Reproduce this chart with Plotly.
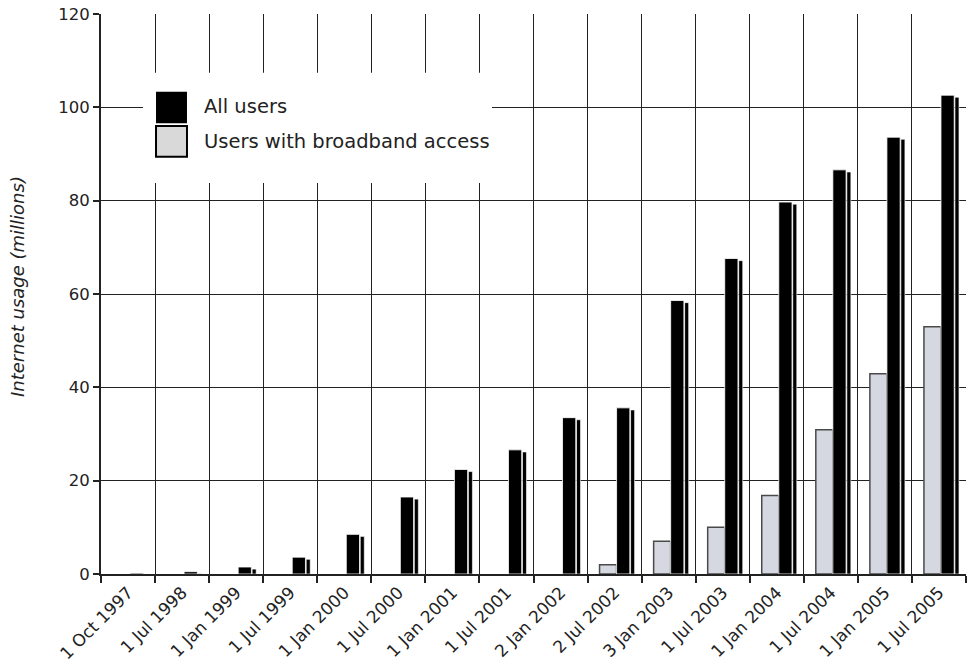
import plotly.graph_objects as go

categories = ["1 Oct 1997", "1 Jul 1998", "1 Jan 1999", "1 Jul 1999", "1 Jan 2000",
              "1 Jul 2000", "1 Jan 2001", "1 Jul 2001", "2 Jan 2002", "2 Jul 2002",
              "3 Jan 2003", "1 Jul 2003", "1 Jan 2004", "1 Jul 2004", "1 Jan 2005",
              "1 Jul 2005"]
all_users = [0.2, 0.5, 1.5, 3.6, 8.5, 16.5, 22.4, 26.6, 33.5, 35.6,
             58.6, 67.6, 79.7, 86.6, 93.6, 102.6]
broadband = [0, 0, 0, 0, 0, 0, 0, 0, 0, 2.0,
             7.0, 10.0, 16.8, 30.9, 42.9, 53.0]
y_ticks = [0, 20, 40, 60, 80, 100, 120]

FONT = "DejaVu Sans"
shadow_drop = 0.45
shadow = [max(v - shadow_drop, 0) for v in all_users]
bb_line = [1.5 if v > 0 else 0 for v in broadband]

fig = go.Figure()
fig.add_trace(go.Bar(
    x=categories, y=broadband, offset=-0.278, width=0.315,
    marker=dict(color="#d5d8e0", line=dict(color="#4a4a4a", width=bb_line)),
    name="Users with broadband access", showlegend=False))
fig.add_trace(go.Bar(
    x=categories, y=shadow, offset=0.296, width=0.074,
    marker=dict(color="#000000", line=dict(color="#ffffff", width=0.6)),
    showlegend=False, hoverinfo="skip"))
fig.add_trace(go.Bar(
    x=categories, y=all_users, offset=0.037, width=0.245,
    marker=dict(color="#000000", line=dict(color="#ffffff", width=0.8)),
    name="All users", showlegend=False))

# legend drawn manually (large swatches on a white panel)
shapes = [
    dict(type="rect", xref="paper", yref="paper", x0=0.0486, x1=0.452, y0=0.698, y1=0.895,
         fillcolor="white", line=dict(width=0), layer="above"),
    dict(type="rect", xref="paper", yref="paper", x0=0.0636, x1=0.0994, y0=0.805, y1=0.861,
         fillcolor="black", line=dict(width=0), layer="above"),
    dict(type="rect", xref="paper", yref="paper", x0=0.0636, x1=0.0994, y0=0.745, y1=0.800,
         fillcolor="#d9d9d9", line=dict(color="black", width=2), layer="above"),
]
annotations = [
    dict(text="All users", xref="paper", yref="paper", x=0.117, y=0.834, xanchor="left",
         yanchor="middle", showarrow=False, font=dict(family=FONT, size=19.5, color="#222")),
    dict(text="Users with broadband access", xref="paper", yref="paper", x=0.117, y=0.773,
         xanchor="left", yanchor="middle", showarrow=False,
         font=dict(family=FONT, size=19.5, color="#222")),
    dict(text="Internet usage (millions)", xref="paper", yref="paper", x=0, y=0.5125,
         xshift=-84, xanchor="center", yanchor="middle", textangle=-90, showarrow=False,
         font=dict(family=FONT, size=18, color="#222", style="italic")),
]

fig.update_layout(
    width=970, height=668,
    margin=dict(l=101, r=4, t=14, b=94),
    paper_bgcolor="white", plot_bgcolor="white",
    barmode="overlay", showlegend=False,
    shapes=shapes, annotations=annotations,
    font=dict(family=FONT, color="#222"),
)
fig.update_xaxes(
    type="category", tickson="boundaries", range=[-0.5, 15.5],
    tickangle=-45, tickfont=dict(family=FONT, size=17, color="#222"),
    showgrid=True, gridcolor="#222", gridwidth=1.4,
    ticks="outside", ticklen=7, tickcolor="#222", tickwidth=1.5,
    showline=True, linecolor="#222", linewidth=2,
)
fig.update_yaxes(
    range=[0, 120], tickvals=y_ticks, ticktext=[str(v) for v in y_ticks],
    tickfont=dict(family=FONT, size=16.5, color="#222"),
    showgrid=True, gridcolor="#222", gridwidth=1.4, zeroline=False,
    ticks="outside", ticklen=6, tickcolor="#222", tickwidth=1.5,
    showline=True, linecolor="#222", linewidth=2,
)

fig.write_html("out.html")
